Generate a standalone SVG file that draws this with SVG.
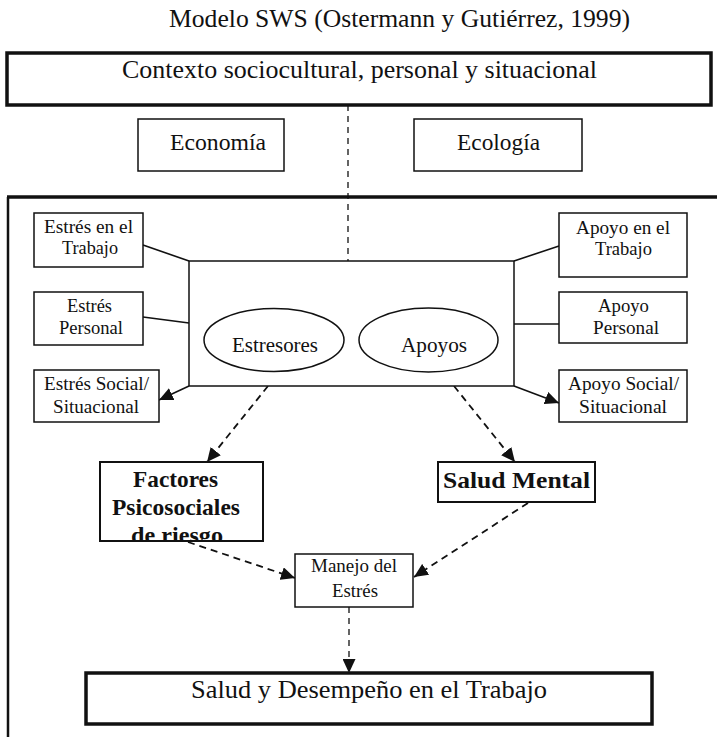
<svg xmlns="http://www.w3.org/2000/svg" width="717" height="737" viewBox="0 0 717 737">
  <style>
    text { font-family: "Liberation Serif", "Times New Roman", serif; fill: #111; }
    .box { fill: #fff; stroke: #111; stroke-width: 1.5; }
    .thick { fill: #fff; stroke: #111; stroke-width: 3.5; }
    .mid { fill: #fff; stroke: #111; stroke-width: 2; }
    .line { fill: none; stroke: #111; stroke-width: 1.6; }
    .dash { fill: none; stroke: #111; stroke-width: 1.8; stroke-dasharray: 7 5; }
    .vdash { fill: none; stroke: #111; stroke-width: 1.3; stroke-dasharray: 6 5; }
    .bold { font-weight: bold; }
  </style>
  <defs>
    <marker id="head" markerUnits="userSpaceOnUse" markerWidth="15" markerHeight="13" refX="14" refY="6.5" orient="auto">
      <path d="M0,0 L14,6.5 L0,13 z" fill="#111"/>
    </marker>
    <clipPath id="factoresClip">
      <rect x="0" y="440" width="300" height="100.5"/>
    </clipPath>
  </defs>

  <rect width="717" height="737" fill="#fff"/>

  <!-- title -->
  <text x="169" y="27" font-size="25.5" textLength="461" lengthAdjust="spacingAndGlyphs">Modelo SWS (Ostermann y Gutiérrez, 1999)</text>

  <!-- outer frame -->
  <g id="frame">
    <path d="M7,197 H717" fill="none" stroke="#111" stroke-width="3.5"/>
    <path d="M8,197 V737" fill="none" stroke="#111" stroke-width="2.5"/>
  </g>

  <!-- connectors -->
  <g id="connectors">
    <path class="vdash" d="M348,105 V261"/>
    <path class="line" d="M143,245 L189,261"/>
    <path class="line" d="M143,317 L189,323"/>
    <path class="line" d="M189,386 L159,400" marker-end="url(#head)"/>
    <path class="line" d="M514,261 L559,246"/>
    <path class="line" d="M514,324 L559,324"/>
    <path class="line" d="M514,386 L559,403" marker-end="url(#head)"/>
    <path class="dash" d="M268,386 L207,462" marker-end="url(#head)"/>
    <path class="dash" d="M454,386 L515,462" marker-end="url(#head)"/>
    <path class="dash" d="M188,542 L295,578" marker-end="url(#head)"/>
    <path class="dash" d="M528,503 L414,577" marker-end="url(#head)"/>
    <path class="vdash" d="M349,607 V673" marker-end="url(#head)"/>
  </g>

  <g id="contexto">
    <rect class="thick" x="7" y="53" width="704" height="52"/>
    <text x="122" y="78" font-size="25" textLength="475" lengthAdjust="spacingAndGlyphs">Contexto sociocultural, personal y situacional</text>
  </g>

  <g id="economia">
    <rect class="box" x="138" y="119" width="146" height="52"/>
    <text x="170" y="150" font-size="23.5" textLength="96" lengthAdjust="spacingAndGlyphs">Economía</text>
  </g>

  <g id="ecologia">
    <rect class="box" x="414" y="119" width="168" height="52"/>
    <text x="457" y="150" font-size="23.5" textLength="83" lengthAdjust="spacingAndGlyphs">Ecología</text>
  </g>

  <g id="estres-trabajo">
    <rect class="box" x="34" y="213" width="109" height="54"/>
    <text x="44" y="233" font-size="19.5" textLength="89" lengthAdjust="spacingAndGlyphs">Estrés en el</text>
    <text x="62" y="254" font-size="19.5" textLength="56" lengthAdjust="spacingAndGlyphs">Trabajo</text>
  </g>

  <g id="estres-personal">
    <rect class="box" x="34" y="292" width="109" height="53"/>
    <text x="67" y="312" font-size="19.5" textLength="45" lengthAdjust="spacingAndGlyphs">Estrés</text>
    <text x="59" y="334" font-size="19.5" textLength="64" lengthAdjust="spacingAndGlyphs">Personal</text>
  </g>

  <g id="estres-social">
    <rect class="box" x="34" y="370" width="125" height="52"/>
    <text x="44" y="390" font-size="19.5" textLength="105" lengthAdjust="spacingAndGlyphs">Estrés Social/</text>
    <text x="53" y="413" font-size="19.5" textLength="86" lengthAdjust="spacingAndGlyphs">Situacional</text>
  </g>

  <g id="apoyo-trabajo">
    <rect class="box" x="559" y="213" width="128" height="64"/>
    <text x="576" y="234" font-size="19.5" textLength="94" lengthAdjust="spacingAndGlyphs">Apoyo en el</text>
    <text x="595" y="255" font-size="19.5" textLength="57" lengthAdjust="spacingAndGlyphs">Trabajo</text>
  </g>

  <g id="apoyo-personal">
    <rect class="box" x="559" y="292" width="128" height="51"/>
    <text x="598" y="312" font-size="19.5" textLength="51" lengthAdjust="spacingAndGlyphs">Apoyo</text>
    <text x="593" y="334" font-size="19.5" textLength="66" lengthAdjust="spacingAndGlyphs">Personal</text>
  </g>

  <g id="apoyo-social">
    <rect class="box" x="559" y="370" width="128" height="52"/>
    <text x="568" y="390" font-size="19.5" textLength="111" lengthAdjust="spacingAndGlyphs">Apoyo Social/</text>
    <text x="579" y="413" font-size="19.5" textLength="88" lengthAdjust="spacingAndGlyphs">Situacional</text>
  </g>

  <g id="nucleo">
    <rect class="box" x="189" y="261" width="325" height="125"/>
  </g>

  <g id="estresores">
    <ellipse class="box" cx="274" cy="340" rx="70" ry="31.5"/>
    <text x="232" y="352" font-size="21" textLength="86" lengthAdjust="spacingAndGlyphs">Estresores</text>
  </g>

  <g id="apoyos">
    <ellipse class="box" cx="428.5" cy="340" rx="69.5" ry="32"/>
    <text x="401" y="352" font-size="21" textLength="66" lengthAdjust="spacingAndGlyphs">Apoyos</text>
  </g>

  <g id="factores">
    <rect class="mid" x="100" y="462" width="163" height="79"/>
    <g clip-path="url(#factoresClip)">
      <text class="bold" x="133" y="487" font-size="23" textLength="85" lengthAdjust="spacingAndGlyphs">Factores</text>
      <text class="bold" x="112" y="515" font-size="23" textLength="128" lengthAdjust="spacingAndGlyphs">Psicosociales</text>
      <text class="bold" x="131" y="543" font-size="23" textLength="92" lengthAdjust="spacingAndGlyphs">de riesgo</text>
    </g>
    <path d="M100,541 H263" fill="none" stroke="#111" stroke-width="2"/>
  </g>

  <g id="salud-mental">
    <rect class="mid" x="438" y="462" width="157" height="40"/>
    <text class="bold" x="443" y="488" font-size="24" textLength="147" lengthAdjust="spacingAndGlyphs">Salud Mental</text>
  </g>

  <g id="manejo">
    <rect class="box" x="295" y="554" width="118" height="53"/>
    <text x="311" y="572" font-size="18.5" textLength="86" lengthAdjust="spacingAndGlyphs">Manejo del</text>
    <text x="332" y="597" font-size="18.5" textLength="46" lengthAdjust="spacingAndGlyphs">Estrés</text>
  </g>

  <g id="salud-desempeno">
    <rect class="thick" x="86" y="673" width="566" height="51"/>
    <text x="191" y="698" font-size="26" textLength="356" lengthAdjust="spacingAndGlyphs">Salud y Desempeño en el Trabajo</text>
  </g>
</svg>
